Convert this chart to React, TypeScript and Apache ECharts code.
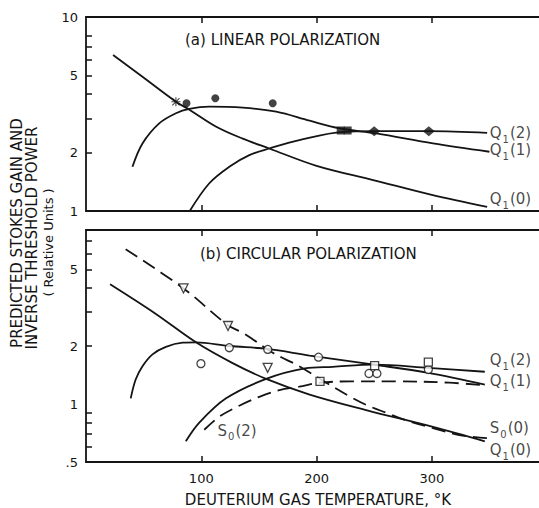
import React, { useEffect, useRef } from 'react';
import * as echarts from 'echarts';

// ---------- axes ----------
const X_MIN = 0;
const X_MAX = 393;
const X_TICKS = [100, 200, 300];
const X_TICK_LABELS = ['100', '200', '300'];

const A_Y_MIN = 1;
const A_Y_MAX = 10;
const A_TICKS = [2, 3, 4, 5, 6, 7, 8];
const A_LABEL_VALUES = [1, 2, 5, 10];
const A_LABELS = ['1', '2', '5', '10'];

const B_Y_MIN = 0.5;
const B_Y_MAX = 8;
const B_TICKS = [0.6, 0.7, 0.8, 0.9, 2, 3, 4, 5, 6, 7];
const B_LABEL_VALUES = [0.5, 1, 2, 5];
const B_LABELS = ['.5', '1', '2', '5'];

// ---------- panel (a) linear polarization ----------
const aQ0x = [23.5, 49, 78, 90, 113, 136, 159, 200, 250, 300, 348];
const aQ0y = [6.37, 4.92, 3.66, 3.32, 2.72, 2.36, 2.1, 1.71, 1.44, 1.21, 1.05];

const aQ1x = [40.3, 49, 63.5, 78, 89.6, 107, 136, 165, 194, 220, 252, 301, 350];
const aQ1y = [1.69, 2.23, 2.83, 3.19, 3.36, 3.45, 3.41, 3.25, 2.92, 2.67, 2.51, 2.23, 2.02];

const aQ2x = [90, 107, 124.3, 141.7, 159, 185, 223, 250, 298, 348];
const aQ2y = [1.0, 1.39, 1.69, 1.94, 2.1, 2.32, 2.56, 2.58, 2.58, 2.53];

const aStarX = [78];
const aStarY = [3.66];
const aDotX = [87.2, 112.2, 162];
const aDotY = [3.59, 3.81, 3.59];
const aSquareX = [221, 227];
const aSquareY = [2.6, 2.6];
const aDiamondX = [250, 297.4];
const aDiamondY = [2.58, 2.58];

const aLabelX = [349, 349, 349];
const aLabelY = [2.52, 2.06, 1.15];
const aLabelText = [
  ['Q', '1', '(2)'],
  ['Q', '1', '(1)'],
  ['Q', '1', '(0)'],
];

// ---------- panel (b) circular polarization ----------
const bQ0x = [20.9, 60, 95.4, 127.2, 156.3, 194, 243, 301, 346];
const bQ0y = [4.18, 2.95, 2.09, 1.63, 1.35, 1.12, 0.93, 0.76, 0.64];

const bQ1x = [38.8, 43.1, 49, 57.7, 69.3, 83.8, 95.4, 124.3, 157.7, 194, 250, 297, 346];
const bQ1y = [1.07, 1.34, 1.57, 1.81, 1.98, 2.08, 2.09, 2.0, 1.93, 1.785, 1.6, 1.45, 1.26];

const bQ2x = [86.6, 98.3, 121.5, 156.3, 190, 214, 250, 297, 346];
const bQ2y = [0.64, 0.8, 1.07, 1.35, 1.53, 1.56, 1.6, 1.54, 1.47];

const bS0x = [34.4, 84.6, 123.2, 136, 162.4, 173.6, 185, 208.4, 228.7, 243, 260.6, 281, 301, 324, 349];
const bS0y = [6.36, 3.98, 2.56, 2.34, 1.84, 1.7, 1.57, 1.29, 1.095, 0.99, 0.9, 0.81, 0.75, 0.69, 0.665];

const bS2x = [102.6, 115.7, 133, 150.4, 167.8, 185, 203, 230, 270, 315, 346];
const bS2y = [0.735, 0.86, 0.98, 1.09, 1.18, 1.23, 1.29, 1.31, 1.31, 1.29, 1.25];

const bTriX = [84.6, 123.2, 157.6];
const bTriY = [3.98, 2.54, 1.54];
const bCircX = [99.7, 124.3, 157.7, 201.7, 245.5, 252.4, 297];
const bCircY = [1.62, 1.96, 1.92, 1.75, 1.44, 1.44, 1.51];
const bSqX = [203, 250.4, 297];
const bSqY = [1.31, 1.58, 1.65];

const bLabelX = [349, 349, 349, 349, 112.8];
const bLabelY = [1.69, 1.31, 0.75, 0.575, 0.726];
const bLabelText = [
  ['Q', '1', '(2)'],
  ['Q', '1', '(1)'],
  ['S', '0', '(0)'],
  ['Q', '1', '(0)'],
  ['S', '0', '(2)'],
];

const INK = '#141414';
const FONT = '"DejaVu Sans", sans-serif';

const STAR_PATH =
  'path://M-0.6,-5L-0.6,5L0.6,5L0.6,-5Z M-5,-0.6L-5,0.6L5,0.6L5,-0.6Z M-4.4,-3.6L3.6,4.4L4.4,3.6L-3.6,-4.4Z M-4.4,3.6L-3.6,4.4L4.4,-3.6L3.6,-4.4Z';

const pts = (xs: number[], ys: number[]) => xs.map((x, i) => [x, ys[i]]);

function curve(name: string, xs: number[], ys: number[], xi: number, yi: number, dashed = false) {
  return {
    type: 'line',
    name,
    xAxisIndex: xi,
    yAxisIndex: yi,
    data: pts(xs, ys),
    smooth: 0.35,
    symbol: 'none',
    silent: true,
    lineStyle: { color: INK, width: 1.8, type: dashed ? [14, 7] : 'solid' },
    z: 2,
  };
}

function markers(name: string, xs: number[], ys: number[], xi: number, yi: number, symbol: string, size: any, open: boolean, rotate = 0) {
  return {
    type: 'scatter',
    name,
    xAxisIndex: xi,
    yAxisIndex: yi,
    data: pts(xs, ys),
    symbol,
    symbolSize: size,
    symbolRotate: rotate,
    silent: true,
    itemStyle: open
      ? { color: '#fff', borderColor: INK, borderWidth: 1.3 }
      : { color: INK },
    z: 4,
  };
}

function labels(xs: number[], ys: number[], texts: string[][], xi: number, yi: number) {
  return {
    type: 'scatter',
    xAxisIndex: xi,
    yAxisIndex: yi,
    data: pts(xs, ys),
    symbol: 'circle',
    symbolSize: 1,
    silent: true,
    itemStyle: { color: 'rgba(0,0,0,0)' },
    label: {
      show: true,
      position: 'right',
      distance: 1,
      formatter: (p: any) => {
        const t = texts[p.dataIndex];
        return `{m|${t[0]}}{s|${t[1]}}{m|${t[2]}}`;
      },
      rich: {
        m: { fontSize: 15, fontFamily: FONT, color: INK },
        s: { fontSize: 10, fontFamily: FONT, color: INK, padding: [12, 1, 0, 1] },
      },
    },
    z: 5,
  };
}

const lg = (v: number) => Math.log10(v);

function labelFormatter(values: number[], texts: string[]) {
  return (v: number) => {
    const i = values.findIndex((t) => Math.abs(lg(t) - v) < 1e-6);
    return i >= 0 ? texts[i] : '';
  };
}

const axisLineStyle = { color: INK, width: 1.8 };

function xAxisDef(grid: number, position: string, withLabels: boolean) {
  return {
    type: 'value',
    gridIndex: grid,
    position,
    min: X_MIN,
    max: X_MAX,
    interval: 100,
    axisLine: { show: true, onZero: false, lineStyle: axisLineStyle },
    axisTick: { show: true, inside: true, length: 6, customValues: X_TICKS, lineStyle: { color: INK, width: 1.5 } },
    axisLabel: withLabels
      ? {
          show: true,
          customValues: X_TICKS,
          formatter: (v: number) => X_TICK_LABELS[X_TICKS.indexOf(v)] ?? '',
          fontSize: 13,
          fontFamily: FONT,
          color: INK,
          margin: 10,
        }
      : { show: false },
    splitLine: { show: false },
  };
}

function yTickAxis(grid: number, min: number, max: number, ticks: number[], lv: number[], lt: string[]) {
  return {
    type: 'value',
    gridIndex: grid,
    position: 'left',
    min: lg(min),
    max: lg(max),
    axisLine: { show: true, onZero: false, lineStyle: axisLineStyle },
    axisTick: { show: true, inside: true, length: 6, customValues: ticks.map(lg), lineStyle: { color: INK, width: 1.5 } },
    axisLabel: {
      show: true,
      customValues: lv.map(lg),
      formatter: labelFormatter(lv, lt),
      fontSize: 13,
      fontFamily: FONT,
      color: INK,
      margin: 8,
    },
    splitLine: { show: false },
  };
}

function yLogAxis(grid: number, min: number, max: number) {
  return {
    type: 'log',
    logBase: 10,
    gridIndex: grid,
    position: 'right',
    min,
    max,
    show: false,
    splitLine: { show: false },
  };
}

export default function App() {
  const ref = useRef<HTMLDivElement>(null);

  useEffect(() => {
    if (!ref.current) return;
    const chart = echarts.init(ref.current, undefined, { renderer: 'svg' });
    const option: any = {
      animation: false,
      backgroundColor: '#ffffff',
      textStyle: { fontFamily: FONT },
      grid: [
        { left: 86, top: 17, right: 0, height: 194 },
        { left: 86, top: 230, right: 0, height: 232 },
      ],
      xAxis: [
        xAxisDef(0, 'bottom', false),
        xAxisDef(0, 'top', false),
        xAxisDef(1, 'bottom', true),
        xAxisDef(1, 'top', false),
      ],
      yAxis: [
        yTickAxis(0, A_Y_MIN, A_Y_MAX, A_TICKS, A_LABEL_VALUES, A_LABELS),
        yLogAxis(0, A_Y_MIN, A_Y_MAX),
        yTickAxis(1, B_Y_MIN, B_Y_MAX, B_TICKS, B_LABEL_VALUES, B_LABELS),
        yLogAxis(1, B_Y_MIN, B_Y_MAX),
      ],
      graphic: [
        { type: 'text', x: 185, y: 40, style: { text: '(a) LINEAR POLARIZATION', font: `15px ${FONT}`, fill: INK, verticalAlign: 'middle' } },
        { type: 'text', x: 200, y: 254, style: { text: '(b) CIRCULAR POLARIZATION', font: `15px ${FONT}`, fill: INK, verticalAlign: 'middle' } },
        { type: 'text', x: 318, y: 500, style: { text: 'DEUTERIUM GAS TEMPERATURE, °K', font: `15px ${FONT}`, fill: INK, align: 'center', verticalAlign: 'middle' } },
        { type: 'text', x: 16.5, y: 233, rotation: Math.PI / 2, style: { text: 'PREDICTED STOKES GAIN AND', font: `15px ${FONT}`, fill: INK, align: 'center', verticalAlign: 'middle' } },
        { type: 'text', x: 31.5, y: 238, rotation: Math.PI / 2, style: { text: 'INVERSE THRESHOLD POWER', font: `15px ${FONT}`, fill: INK, align: 'center', verticalAlign: 'middle' } },
        { type: 'text', x: 48.5, y: 242.5, rotation: Math.PI / 2, style: { text: '( Relative Units )', font: `13px ${FONT}`, fill: INK, align: 'center', verticalAlign: 'middle' } },
        { type: 'circle', shape: { cx: 36, cy: 338, r: 1.2 }, style: { fill: INK } },
      ],
      series: [
        curve('Q1(0) a', aQ0x, aQ0y, 0, 1),
        curve('Q1(1) a', aQ1x, aQ1y, 0, 1),
        curve('Q1(2) a', aQ2x, aQ2y, 0, 1),
        markers('star a', aStarX, aStarY, 0, 1, STAR_PATH, 9, false),
        markers('dots a', aDotX, aDotY, 0, 1, 'circle', 8, false),
        markers('squares a', aSquareX, aSquareY, 0, 1, 'rect', 8, false),
        markers('diamonds a', aDiamondX, aDiamondY, 0, 1, 'diamond', [12, 10], false),
        labels(aLabelX, aLabelY, aLabelText, 0, 1),

        curve('Q1(0) b', bQ0x, bQ0y, 2, 3),
        curve('Q1(1) b', bQ1x, bQ1y, 2, 3),
        curve('Q1(2) b', bQ2x, bQ2y, 2, 3),
        curve('S0(0) b', bS0x, bS0y, 2, 3, true),
        curve('S0(2) b', bS2x, bS2y, 2, 3, true),
        markers('triangles b', bTriX, bTriY, 2, 3, 'triangle', 9, true, 180),
        markers('circles b', bCircX, bCircY, 2, 3, 'circle', 8, true),
        markers('squares b', bSqX, bSqY, 2, 3, 'rect', 8, true),
        labels(bLabelX, bLabelY, bLabelText, 2, 3),
      ],
    };
    chart.setOption(option);
    return () => chart.dispose();
  }, []);

  return (
    <div
      ref={ref}
      style={{ position: 'absolute', left: 0, top: 0, width: 539, height: 508, background: '#fff' }}
    />
  );
}
